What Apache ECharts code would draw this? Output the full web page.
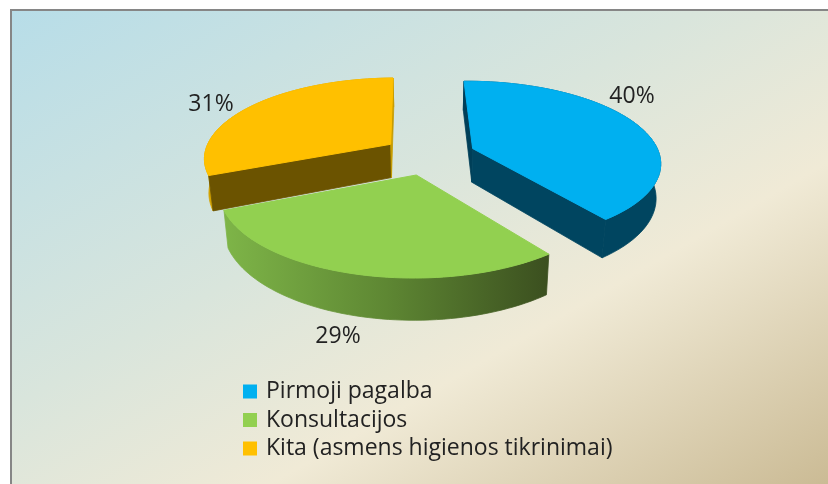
<!DOCTYPE html>
<html>
<head>
<meta charset="utf-8">
<style>
  html, body { margin: 0; padding: 0; background: #fff; }
  #chart { width: 828px; height: 484px; }
</style>
</head>
<body>
<div id="chart"></div>
<script src="https://cdn.jsdelivr.net/npm/echarts@6/dist/echarts.min.js"></script>
<script>
const categories = ['Pirmoji pagalba', 'Konsultacijos', 'Kita (asmens higienos tikrinimai)'];
const shares = [40, 29, 31];

const FONT = '"Open Sans", Lato, sans-serif';
const total = shares.reduce((a, b) => a + b, 0);

// pie "camera": simple perspective on a tilted disc
const CX = 429, CY = 155, RX = 187, RY = 79.8, PERSP = 0.157, DEPTH = 34, BOTTOM = 0.98;
const EXPLODE = 0.25, START_DEG = -91;

const sliceStyle = [
  { top: '#00b0f0', arc: '#004560', wallStart: '#003f58', wallEnd: '#004560', label: [632, 96] },
  { top: '#92d050', arc: ['#7eb548', '#5e8733', '#3b4f1f'], wallStart: '#3f5521', wallEnd: '#3f5521', label: [338, 336] },
  { top: '#ffc000', arc: '#d3a200', wallStart: '#6b5300', wallEnd: '#c79c00', label: [211, 104] }
];

function project(u, v, low) {
  const w = 1 - PERSP * v;
  const f = low ? BOTTOM : 1;
  return [CX + RX * u / w * f, CY + RY * v / w + (low ? DEPTH / w : 0)];
}

function signedArea(p) {
  let s = 0;
  p.forEach((a, i) => {
    const b = p[(i + 1) % p.length];
    s += a[0] * b[1] - b[0] * a[1];
  });
  return s;
}

function renderSlice(params) {
  const idx = params.seriesIndex;
  const style = sliceStyle[idx];
  const before = shares.slice(0, idx).reduce((a, b) => a + b, 0);
  const a0 = (START_DEG + before / total * 360) * Math.PI / 180;
  const a1 = (START_DEG + (before + shares[idx]) / total * 360) * Math.PI / 180;
  const mid = (a0 + a1) / 2;
  const ox = EXPLODE * Math.cos(mid), oy = EXPLODE * Math.sin(mid);

  const top = [], low = [];
  const steps = 60;
  for (let i = 0; i <= steps; i++) {
    const a = a0 + (a1 - a0) * i / steps;
    const u = ox + Math.cos(a), v = oy + Math.sin(a);
    top.push(project(u, v, false));
    low.push(project(u, v, true));
  }
  const apexTop = project(ox, oy, false), apexLow = project(ox, oy, true);

  const arcFill = Array.isArray(style.arc)
    ? new echarts.graphic.LinearGradient(0, 0, 1, 0, style.arc.map((c, i) => ({ offset: i / (style.arc.length - 1), color: c })))
    : style.arc;

  const children = [
    { type: 'polygon', shape: { points: top.concat(low.slice().reverse()) }, style: { fill: arcFill, stroke: arcFill, lineWidth: 0.8 } }
  ];

  // radial walls, only the ones that face the viewer
  const wallStart = [apexTop, top[0], low[0], apexLow];
  const wallEnd = [top[steps], apexTop, apexLow, low[steps]];
  if (signedArea(wallStart) < 0) {
    children.push({ type: 'polygon', shape: { points: wallStart }, style: { fill: style.wallStart, stroke: style.wallStart, lineWidth: 0.8 } });
  }
  if (signedArea(wallEnd) < 0) {
    children.push({ type: 'polygon', shape: { points: wallEnd }, style: { fill: style.wallEnd, stroke: style.wallEnd, lineWidth: 0.8 } });
  }
  children.push({ type: 'polygon', shape: { points: [apexTop].concat(top) }, style: { fill: style.top, stroke: style.top, lineWidth: 1 } });
  children.push({
    type: 'text',
    style: {
      x: style.label[0], y: style.label[1],
      text: shares[idx] + '%',
      font: '23px ' + FONT,
      fill: '#222222',
      align: 'center', verticalAlign: 'middle'
    }
  });
  return { type: 'group', children: children };
}

const chart = echarts.init(document.getElementById('chart'), null, { renderer: 'canvas' });
chart.setOption({
  animation: false,
  graphic: [{
    type: 'rect',
    silent: true,
    z: -10,
    shape: { x: 11, y: 10, width: 830, height: 490 },
    style: {
      fill: new echarts.graphic.LinearGradient(215, -107, 624, 601, [
        { offset: 0, color: '#b7dde8' },
        { offset: 0.42, color: '#d9e5dc' },
        { offset: 0.66, color: '#f0ead6' },
        { offset: 1, color: '#cbbb95' }
      ], true),
      stroke: '#868686',
      lineWidth: 2
    }
  }],
  legend: {
    orient: 'vertical',
    left: 243,
    top: 380,
    padding: 0,
    icon: 'rect',
    itemWidth: 14,
    itemHeight: 14,
    itemGap: 5.5,
    selectedMode: false,
    data: categories,
    textStyle: { fontFamily: FONT, fontSize: 23, color: '#222222', padding: [0, 0, 0, 4], lineHeight: 22 }
  },
  series: categories.map((name, i) => ({
    type: 'custom',
    name: name,
    coordinateSystem: 'none',
    itemStyle: { color: sliceStyle[i].top },
    renderItem: renderSlice,
    data: [shares[i]]
  }))
});
</script>
</body>
</html>
